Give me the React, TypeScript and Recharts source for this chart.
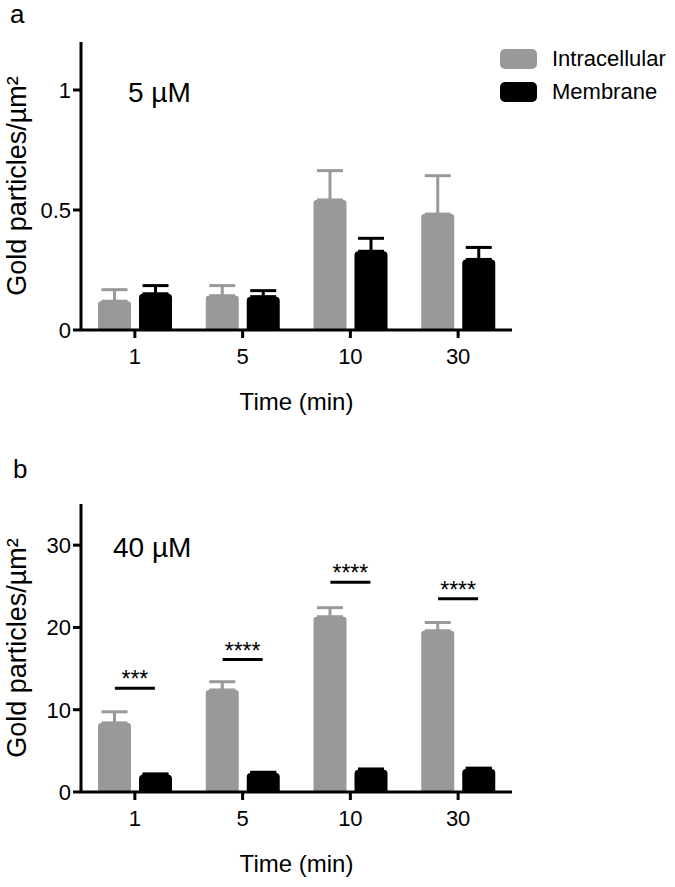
import React from 'react';
import { ComposedChart, Bar, Line, XAxis, YAxis, ErrorBar, Legend, Label } from 'recharts';

const TIMES = ['1', '5', '10', '30'];

// a: 5 µM
const INTRA_5 = [0.12, 0.143, 0.542, 0.483];
const INTRA_5_ERR = [0.048, 0.042, 0.122, 0.16];
const MEMB_5 = [0.151, 0.139, 0.328, 0.294];
const MEMB_5_ERR = [0.034, 0.025, 0.054, 0.05];
const TICKS_5 = [0, 0.5, 1];

// b: 40 µM
const INTRA_40 = [8.4, 12.4, 21.3, 19.6];
const INTRA_40_ERR = [1.35, 1.0, 1.1, 1.0];
const MEMB_40 = [2.1, 2.3, 2.7, 2.8];
const MEMB_40_ERR = [0.1, 0.1, 0.1, 0.1];
const SIG_40 = [12.6, 16.1, 25.5, 23.5];
const SIG_LABELS = ['***', '****', '****', '****'];
const TICKS_40 = [0, 10, 20, 30];

const GRAY = '#999999';
const FONT = '"Liberation Sans", Arial, Helvetica, sans-serif';
const W = 675;
const PLOT_H = 288;

const rows5 = TIMES.map((t, i) => ({
  time: t,
  intra: INTRA_5[i],
  intraErr: [0, INTRA_5_ERR[i]],
  memb: MEMB_5[i],
  membErr: [0, MEMB_5_ERR[i]],
}));

const rows40 = TIMES.map((t, i) => ({
  time: t,
  intra: INTRA_40[i],
  intraErr: [0, INTRA_40_ERR[i]],
  memb: MEMB_40[i],
  membErr: [0, MEMB_40_ERR[i]],
  sig: SIG_40[i],
  sigLabel: SIG_LABELS[i],
}));

const SigMark = (props: any) => {
  const { cx, cy, payload, index } = props;
  if (cx == null || cy == null) return <g key={index} />;
  return (
    <g key={index}>
      <line x1={cx - 20} x2={cx + 20} y1={cy} y2={cy} stroke="#000" strokeWidth={3} />
      <text x={cx} y={cy - 1} textAnchor="middle" fontSize={23} fontFamily={FONT} fill="#000">
        {payload.sigLabel}
      </text>
    </g>
  );
};

const LegendBox = ({ payload }: any) => (
  <div style={{ fontFamily: FONT, fontSize: 22, color: '#000' }}>
    {(payload || []).map((p: any) => (
      <div key={p.value} style={{ display: 'flex', alignItems: 'center', height: 20, marginBottom: 13 }}>
        <span style={{ display: 'inline-block', width: 37, height: 20, borderRadius: 5, background: p.color, marginRight: 15 }} />
        <span>{p.value}</span>
      </div>
    ))}
  </div>
);

const axisStyle = { stroke: '#000', strokeWidth: 3 };
const tickStyle = { fill: '#000', fontSize: 22, fontFamily: FONT };

function Panel({ rows, domain, ticks, top, height, marginTop, letter, letterX, letterY, conc, concX, concY, legend, sig }: any) {
  return (
    <div style={{ position: 'absolute', left: 0, top, width: W, height }}>
      <ComposedChart
        width={W}
        height={height}
        data={rows}
        margin={{ top: marginTop, right: 163, bottom: 0, left: 0 }}
        barCategoryGap={17}
        barGap={8}
        style={{ fontFamily: FONT }}
      >
        <XAxis
          dataKey="time"
          height={height - marginTop - PLOT_H}
          axisLine={axisStyle}
          tickLine={axisStyle}
          tickSize={8}
          tickMargin={10}
          tick={tickStyle}
        >
          <Label value="Time (min)" position="insideTop" offset={63} fontSize={24} fill="#000" fontFamily={FONT} />
        </XAxis>
        <YAxis
          width={81}
          domain={domain}
          ticks={ticks}
          interval={0}
          axisLine={axisStyle}
          tickLine={axisStyle}
          tickSize={8}
          tickMargin={2}
          tick={tickStyle}
        >
          <Label
            value="Gold particles/µm²"
            angle={-90}
            position="insideLeft"
            offset={16}
            fontSize={27}
            fill="#000"
            fontFamily={FONT}
            style={{ textAnchor: 'middle' }}
          />
        </YAxis>
        <Bar dataKey="intra" name="Intracellular" fill={GRAY} radius={[3, 3, 0, 0]} isAnimationActive={false}>
          <ErrorBar dataKey="intraErr" width={13} stroke={GRAY} strokeWidth={3} direction="y" />
        </Bar>
        <Bar dataKey="memb" name="Membrane" fill="#000" radius={[4, 4, 0, 0]} isAnimationActive={false}>
          <ErrorBar dataKey="membErr" width={13} stroke="#000" strokeWidth={3} direction="y" />
        </Bar>
        {sig && (
          <Line dataKey="sig" stroke="none" dot={SigMark} activeDot={false} legendType="none" isAnimationActive={false} />
        )}
        {legend && (
          <Legend
            layout="vertical"
            align="center"
            verticalAlign="middle"
            wrapperStyle={{ left: 500, top: 49, width: 175 }}
            content={LegendBox}
          />
        )}
      </ComposedChart>
      <svg width={W} height={height} style={{ position: 'absolute', left: 0, top: 0, pointerEvents: 'none' }}>
        <text x={letterX} y={letterY} fontSize={26} fontFamily={FONT} fill="#000">{letter}</text>
        <text x={concX} y={concY} fontSize={28} fontFamily={FONT} fill="#000">{conc}</text>
      </svg>
    </div>
  );
}

export default function App() {
  return (
    <div style={{ position: 'absolute', left: 0, top: 0, width: W, height: 887, background: '#fff' }}>
      <Panel
        rows={rows5}
        domain={[0, 1.2]}
        ticks={TICKS_5}
        top={0}
        height={440}
        marginTop={42}
        letter="a"
        letterX={10}
        letterY={23}
        conc="5 µM"
        concX={128}
        concY={102}
        legend
      />
      <Panel
        rows={rows40}
        domain={[0, 35]}
        ticks={TICKS_40}
        top={440}
        height={447}
        marginTop={64}
        letter="b"
        letterX={13}
        letterY={38}
        conc="40 µM"
        concX={113}
        concY={117}
        sig
      />
    </div>
  );
}
